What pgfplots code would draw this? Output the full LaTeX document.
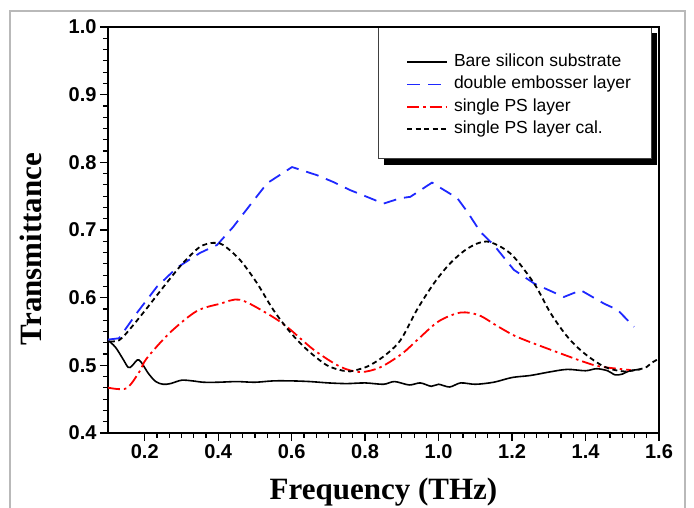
\documentclass[border=0pt]{standalone}
\usepackage{pgfplots}
\pgfplotsset{compat=1.18}
\usepackage{fontspec}
\setmainfont{Liberation Serif}
\newfontfamily\arial{Liberation Sans}

\definecolor{eblue}{RGB}{30,40,255}
\definecolor{psred}{RGB}{255,0,0}

\begin{document}
\begin{tikzpicture}
\useasboundingbox (0pt,0pt) rectangle (694pt,508pt);
% outer frame of the figure
\draw[gray!55, line width=1.8pt] (10pt,-5pt) -- (10pt,497pt) -- (685pt,497pt) -- (685pt,-5pt);
% legend box with shadow
\fill[black] (384pt,343pt) rectangle (657pt,475pt);
\draw[black!75, fill=white, line width=0.9pt] (378pt,350pt) rectangle (651pt,481pt);

\begin{axis}[
  at={(108pt,75pt)}, anchor=south west,
  scale only axis, width=551pt, height=406pt,
  xmin=0.1, xmax=1.6, ymin=0.4, ymax=1.0,
  xtick={0.2,0.4,0.6,0.8,1.0,1.2,1.4,1.6},
  ytick={0.4,0.5,0.6,0.7,0.8,0.9,1.0},
  minor tick num=5,
  xtick pos=bottom, ytick pos=left,
  tick align=outside,
  major tick length=8pt, minor tick length=5pt,
  every tick/.style={black, line width=1.3pt},
  every minor tick/.style={black, line width=1.2pt},
  axis line style={line width=1.5pt},
  tick label style={font=\arial\bfseries\fontsize{20}{24}\selectfont},
  /pgf/number format/fixed, /pgf/number format/fixed zerofill,
  /pgf/number format/precision=1,
  /pgf/number format/assume math mode=true,
  xlabel={Frequency (THz)},
  ylabel={Transmittance},
  every axis x label/.style={at={(axis description cs:0.5,-0.165)}, anchor=base,
    font=\bfseries\fontsize{31}{34}\selectfont},
  every axis y label/.style={at={(axis description cs:-0.1198,0.4532)}, rotate=90, anchor=base,
    font=\bfseries\fontsize{31}{34}\selectfont},
  legend style={at={(axis description cs:0.5354,0.946)}, anchor=north west,
    draw=none, fill=none, font=\arial\fontsize{17.5}{20}\selectfont,
    row sep=0pt, column sep=3pt,
    nodes={inner ysep=2.6pt, inner xsep=3pt, text height=13pt, text depth=4pt}},
  legend cell align=left,
  legend image code/.code={\draw[#1] (0pt,0pt) -- (40pt,0pt);},
]
\addplot[black, line width=1.6pt, smooth] coordinates {
(0.100,0.537) (0.120,0.527) (0.140,0.510) (0.155,0.497) (0.165,0.499)
(0.180,0.508) (0.190,0.505) (0.210,0.488) (0.230,0.476) (0.250,0.472)
(0.270,0.473) (0.300,0.478) (0.330,0.477) (0.360,0.475) (0.400,0.475)
(0.450,0.476) (0.500,0.475) (0.550,0.477) (0.600,0.477) (0.650,0.476)
(0.700,0.474) (0.750,0.473) (0.800,0.474) (0.850,0.472) (0.880,0.476)
(0.920,0.471) (0.950,0.474) (0.980,0.469) (1.000,0.472) (1.030,0.468)
(1.060,0.474) (1.100,0.472) (1.150,0.475) (1.200,0.482) (1.250,0.485)
(1.300,0.490) (1.350,0.494) (1.400,0.492) (1.430,0.495) (1.460,0.492)
(1.480,0.486) (1.500,0.487) (1.520,0.492) (1.550,0.494)
};
\addlegendentry{Bare silicon substrate}
\addplot[eblue, line width=1.8pt, dash pattern=on 13pt off 8pt] coordinates {
(0.100,0.538) (0.130,0.540) (0.178,0.577) (0.233,0.616) (0.287,0.644)
(0.350,0.666) (0.397,0.678) (0.440,0.704) (0.487,0.737) (0.533,0.769)
(0.601,0.793) (0.669,0.781) (0.713,0.771) (0.759,0.759) (0.814,0.747)
(0.850,0.739) (0.896,0.747) (0.923,0.749) (0.982,0.770) (1.051,0.747)
(1.078,0.727) (1.114,0.697) (1.150,0.678) (1.205,0.641) (1.260,0.621)
(1.341,0.601) (1.387,0.611) (1.451,0.591) (1.487,0.582) (1.532,0.557)
};
\addlegendentry{double embosser layer}
\addplot[psred, line width=1.8pt, smooth, dash pattern=on 12pt off 4pt on 2.5pt off 4pt] coordinates {
(0.100,0.467) (0.150,0.466) (0.186,0.491) (0.205,0.510) (0.268,0.548)
(0.341,0.580) (0.405,0.591) (0.459,0.597) (0.532,0.577) (0.587,0.557)
(0.660,0.523) (0.732,0.498) (0.787,0.490) (0.841,0.497) (0.900,0.517)
(0.941,0.537) (1.000,0.565) (1.060,0.578) (1.110,0.574) (1.160,0.558)
(1.214,0.542) (1.305,0.523) (1.396,0.505) (1.442,0.498) (1.523,0.493)
};
\addlegendentry{single PS layer}
\addplot[black, line width=1.8pt, smooth, dash pattern=on 5pt off 3.5pt] coordinates {
(0.105,0.535) (0.130,0.537) (0.151,0.548) (0.195,0.577) (0.260,0.622)
(0.304,0.651) (0.350,0.675) (0.386,0.681) (0.413,0.678) (0.459,0.656)
(0.505,0.622) (0.550,0.582) (0.596,0.549) (0.642,0.523) (0.696,0.500)
(0.740,0.492) (0.759,0.491) (0.805,0.498) (0.850,0.513) (0.896,0.537)
(0.941,0.582) (0.987,0.621) (1.032,0.651) (1.080,0.673) (1.132,0.683)
(1.196,0.665) (1.260,0.621) (1.305,0.577) (1.351,0.542) (1.396,0.518)
(1.451,0.498) (1.505,0.491) (1.560,0.496) (1.578,0.503) (1.600,0.510)
};
\addlegendentry{single PS layer cal.}
\end{axis}
\end{tikzpicture}
\end{document}
